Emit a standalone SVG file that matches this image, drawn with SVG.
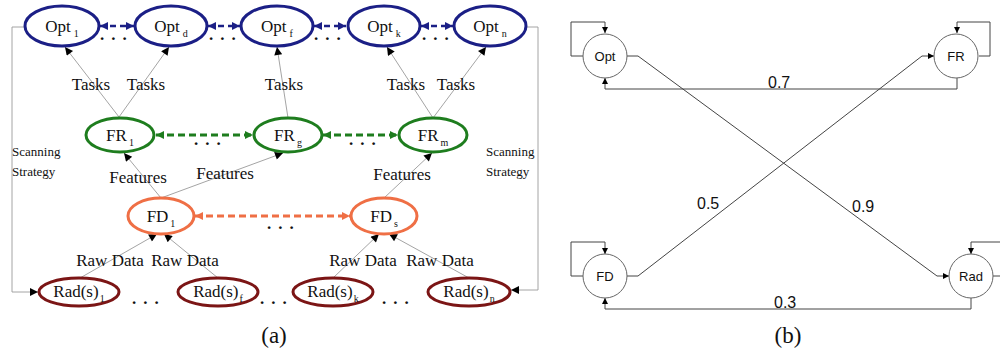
<svg xmlns="http://www.w3.org/2000/svg" width="1000" height="353" viewBox="0 0 1000 353">
<style>
.ser{font-family:"Liberation Serif","Times New Roman",serif;fill:#111}
.nl{font-size:17px;text-anchor:middle}
.el{font-size:17px;text-anchor:middle}
.ss{font-size:13px}
.sub{font-size:10px}
.opt{fill:#fff;stroke:#1b1f86;stroke-width:3}
.fr{fill:#fff;stroke:#1e7d1e;stroke-width:3}
.fd{fill:#fff;stroke:#ef6f45;stroke-width:3}
.rad{fill:#fff;stroke:#7b1515;stroke-width:3}
.gl{fill:none;stroke:#9a9a9a;stroke-width:0.9}
.dn{stroke:#1b1f86;stroke-width:2.6;stroke-dasharray:6 4;fill:none}
.dg{stroke:#1e7d1e;stroke-width:3;stroke-dasharray:7 4;fill:none}
.do{stroke:#ef6f45;stroke-width:3;stroke-dasharray:7 4;fill:none}
.dots{font-family:"Liberation Serif",serif;font-size:17px;fill:#111;letter-spacing:7px;font-weight:bold}
.sans{font-family:"Liberation Sans",Arial,sans-serif;fill:#111}
.cn{fill:#fff;stroke:#666;stroke-width:1}
.bl{fill:none;stroke:#444;stroke-width:1}
</style>
<defs>
<marker id="mn" viewBox="0 0 10 10" refX="10" refY="5" markerUnits="userSpaceOnUse" markerWidth="9" markerHeight="8" orient="auto-start-reverse"><path d="M0,0 L10,5 L0,10 z" fill="#1b1f86"/></marker>
<marker id="mg" viewBox="0 0 10 10" refX="10" refY="5" markerUnits="userSpaceOnUse" markerWidth="10" markerHeight="8" orient="auto-start-reverse"><path d="M0,0 L10,5 L0,10 z" fill="#1e7d1e"/></marker>
<marker id="mo" viewBox="0 0 10 10" refX="10" refY="5" markerUnits="userSpaceOnUse" markerWidth="10" markerHeight="8" orient="auto-start-reverse"><path d="M0,0 L10,5 L0,10 z" fill="#ef6f45"/></marker>
<marker id="mb" viewBox="0 0 10 10" refX="10" refY="5" markerUnits="userSpaceOnUse" markerWidth="10" markerHeight="8" orient="auto"><path d="M0,0 L10,5 L0,10 z" fill="#000"/></marker>
<marker id="ms" viewBox="0 0 10 10" refX="10" refY="5" markerUnits="userSpaceOnUse" markerWidth="8" markerHeight="6" orient="auto"><path d="M0,0 L10,5 L0,10 z" fill="#000"/></marker>
</defs>

<g id="connectors-a">
<path class="gl" d="M25,27 H12 V292 H38" marker-end="url(#mb)"/>
<path class="gl" d="M527,27 H538 V290 H511" marker-end="url(#mb)"/>
<line class="gl" x1="119" y1="117" x2="65" y2="47" marker-end="url(#mb)"/>
<line class="gl" x1="119" y1="117" x2="169" y2="47" marker-end="url(#mb)"/>
<line class="gl" x1="288" y1="118" x2="277" y2="47" marker-end="url(#mb)"/>
<line class="gl" x1="433" y1="118" x2="387" y2="47" marker-end="url(#mb)"/>
<line class="gl" x1="433" y1="118" x2="486" y2="47" marker-end="url(#mb)"/>
<line class="gl" x1="161" y1="198" x2="124" y2="153" marker-end="url(#mb)"/>
<line class="gl" x1="161" y1="198" x2="283" y2="153" marker-end="url(#mb)"/>
<line class="gl" x1="384" y1="198" x2="432" y2="153" marker-end="url(#mb)"/>
<line class="gl" x1="80" y1="278" x2="157" y2="234" marker-end="url(#mb)"/>
<line class="gl" x1="218" y1="278" x2="164" y2="234" marker-end="url(#mb)"/>
<line class="gl" x1="333" y1="278" x2="379" y2="234" marker-end="url(#mb)"/>
<line class="gl" x1="469" y1="278" x2="389" y2="234" marker-end="url(#mb)"/>
<line class="dn" x1="100" y1="26" x2="134" y2="26" marker-start="url(#mn)" marker-end="url(#mn)"/>
<line class="dn" x1="208" y1="26" x2="240" y2="26" marker-start="url(#mn)" marker-end="url(#mn)"/>
<line class="dn" x1="314" y1="26" x2="346" y2="26" marker-start="url(#mn)" marker-end="url(#mn)"/>
<line class="dn" x1="421" y1="26" x2="453" y2="26" marker-start="url(#mn)" marker-end="url(#mn)"/>
<line class="dg" x1="156" y1="135" x2="253" y2="135" marker-start="url(#mg)" marker-end="url(#mg)"/>
<line class="dg" x1="323" y1="135" x2="398" y2="135" marker-start="url(#mg)" marker-end="url(#mg)"/>
<line class="do" x1="195" y1="216" x2="350" y2="216" marker-start="url(#mo)" marker-end="url(#mo)"/>
<text class="ser el" x="91" y="90">Tasks</text>
<text class="ser el" x="146" y="90">Tasks</text>
<text class="ser el" x="284" y="90">Tasks</text>
<text class="ser el" x="406" y="90">Tasks</text>
<text class="ser el" x="456" y="90">Tasks</text>
<text class="ser el" x="138" y="183">Features</text>
<text class="ser el" x="225" y="179">Features</text>
<text class="ser el" x="402" y="180">Features</text>
<text class="ser el" x="110" y="266">Raw Data</text>
<text class="ser el" x="185" y="266">Raw Data</text>
<text class="ser el" x="363" y="266">Raw Data</text>
<text class="ser el" x="440" y="266">Raw Data</text>
<text class="ser ss" x="12" y="156">Scanning</text>
<text class="ser ss" x="12" y="176">Strategy</text>
<text class="ser ss" x="486" y="156">Scanning</text>
<text class="ser ss" x="486" y="176">Strategy</text>
</g>

<g id="dots">
<text class="dots" x="100" y="40">...</text>
<text class="dots" x="209" y="40">...</text>
<text class="dots" x="314" y="40">...</text>
<text class="dots" x="422" y="40">...</text>
<text class="dots" x="194" y="145">...</text>
<text class="dots" x="349" y="145">...</text>
<text class="dots" x="267" y="229">...</text>
<text class="dots" x="132" y="304">...</text>
<text class="dots" x="260" y="304">...</text>
<text class="dots" x="382" y="304">...</text>
</g>

<g id="opt1"><ellipse class="opt" cx="62" cy="26" rx="37" ry="20"/><text class="ser nl" x="62" y="32">Opt<tspan class="sub" dx="3" dy="5">1</tspan></text></g>
<g id="optd"><ellipse class="opt" cx="171" cy="26" rx="36" ry="20"/><text class="ser nl" x="171" y="32">Opt<tspan class="sub" dx="3" dy="5">d</tspan></text></g>
<g id="optf"><ellipse class="opt" cx="277" cy="26" rx="36" ry="20"/><text class="ser nl" x="277" y="32">Opt<tspan class="sub" dx="3" dy="5">f</tspan></text></g>
<g id="optk"><ellipse class="opt" cx="384" cy="26" rx="36" ry="20"/><text class="ser nl" x="384" y="32">Opt<tspan class="sub" dx="3" dy="5">k</tspan></text></g>
<g id="optn"><ellipse class="opt" cx="490" cy="26" rx="36" ry="20"/><text class="ser nl" x="490" y="32">Opt<tspan class="sub" dx="3" dy="5">n</tspan></text></g>

<g id="fr1"><ellipse class="fr" cx="120" cy="135" rx="34" ry="17"/><text class="ser nl" x="120" y="141">FR<tspan class="sub" dx="2" dy="5">1</tspan></text></g>
<g id="frg"><ellipse class="fr" cx="288" cy="135" rx="34" ry="17"/><text class="ser nl" x="288" y="141">FR<tspan class="sub" dx="2" dy="5">g</tspan></text></g>
<g id="frm"><ellipse class="fr" cx="433" cy="135" rx="34" ry="17"/><text class="ser nl" x="433" y="141">FR<tspan class="sub" dx="2" dy="5">m</tspan></text></g>

<g id="fd1"><ellipse class="fd" cx="161" cy="216" rx="33" ry="18"/><text class="ser nl" x="161" y="222">FD<tspan class="sub" dx="2" dy="5">1</tspan></text></g>
<g id="fds"><ellipse class="fd" cx="384" cy="216" rx="33" ry="18"/><text class="ser nl" x="384" y="222">FD<tspan class="sub" dx="2" dy="5">s</tspan></text></g>

<g id="rad1"><ellipse class="rad" cx="79" cy="292" rx="40" ry="14"/><text class="ser nl" x="79" y="297">Rad(s)<tspan class="sub" dx="1" dy="5">1</tspan></text></g>
<g id="radf"><ellipse class="rad" cx="218" cy="292" rx="40" ry="14"/><text class="ser nl" x="218" y="297">Rad(s)<tspan class="sub" dx="1" dy="5">f</tspan></text></g>
<g id="radk"><ellipse class="rad" cx="333" cy="292" rx="40" ry="14"/><text class="ser nl" x="333" y="297">Rad(s)<tspan class="sub" dx="1" dy="5">k</tspan></text></g>
<g id="radn"><ellipse class="rad" cx="469" cy="292" rx="41" ry="14"/><text class="ser nl" x="469" y="297">Rad(s)<tspan class="sub" dx="1" dy="5">n</tspan></text></g>

<text class="ser" x="274" y="343" font-size="23" text-anchor="middle">(a)</text>

<g id="connectors-b">
<path class="bl" d="M583,56 H571 V22 H605 V33" marker-end="url(#ms)"/>
<path class="bl" d="M979,56 H990 V22 H957 V33" marker-end="url(#ms)"/>
<path class="bl" d="M583,276 H571 V242 H605 V254" marker-end="url(#ms)"/>
<path class="bl" d="M993,276 H1004 V242 H971 V254" marker-end="url(#ms)"/>
<path class="bl" d="M957,78 V89 H605 V78" marker-end="url(#ms)"/>
<path class="bl" d="M971,298 V309 H605 V298" marker-end="url(#ms)"/>
<path class="bl" d="M627,56 H638 L937,276 H949" marker-end="url(#ms)"/>
<path class="bl" d="M627,276 H638 L922,56 H934" marker-end="url(#ms)"/>
<text class="sans" x="768" y="88" font-size="16">0.7</text>
<text class="sans" x="774" y="308" font-size="16">0.3</text>
<text class="sans" x="697" y="209" font-size="16">0.5</text>
<text class="sans" x="852" y="212" font-size="16">0.9</text>
</g>
<g id="b-opt"><circle class="cn" cx="605" cy="56" r="22"/><text class="sans" x="605" y="61" font-size="13" text-anchor="middle">Opt</text></g>
<g id="b-fr"><circle class="cn" cx="956" cy="56" r="22"/><text class="sans" x="956" y="61" font-size="13" text-anchor="middle">FR</text></g>
<g id="b-fd"><circle class="cn" cx="605" cy="276" r="22"/><text class="sans" x="605" y="281" font-size="13" text-anchor="middle">FD</text></g>
<g id="b-rad"><circle class="cn" cx="971" cy="276" r="22"/><text class="sans" x="971" y="281" font-size="13" text-anchor="middle">Rad</text></g>
<text class="ser" x="788" y="343" font-size="23" text-anchor="middle">(b)</text>
</svg>
